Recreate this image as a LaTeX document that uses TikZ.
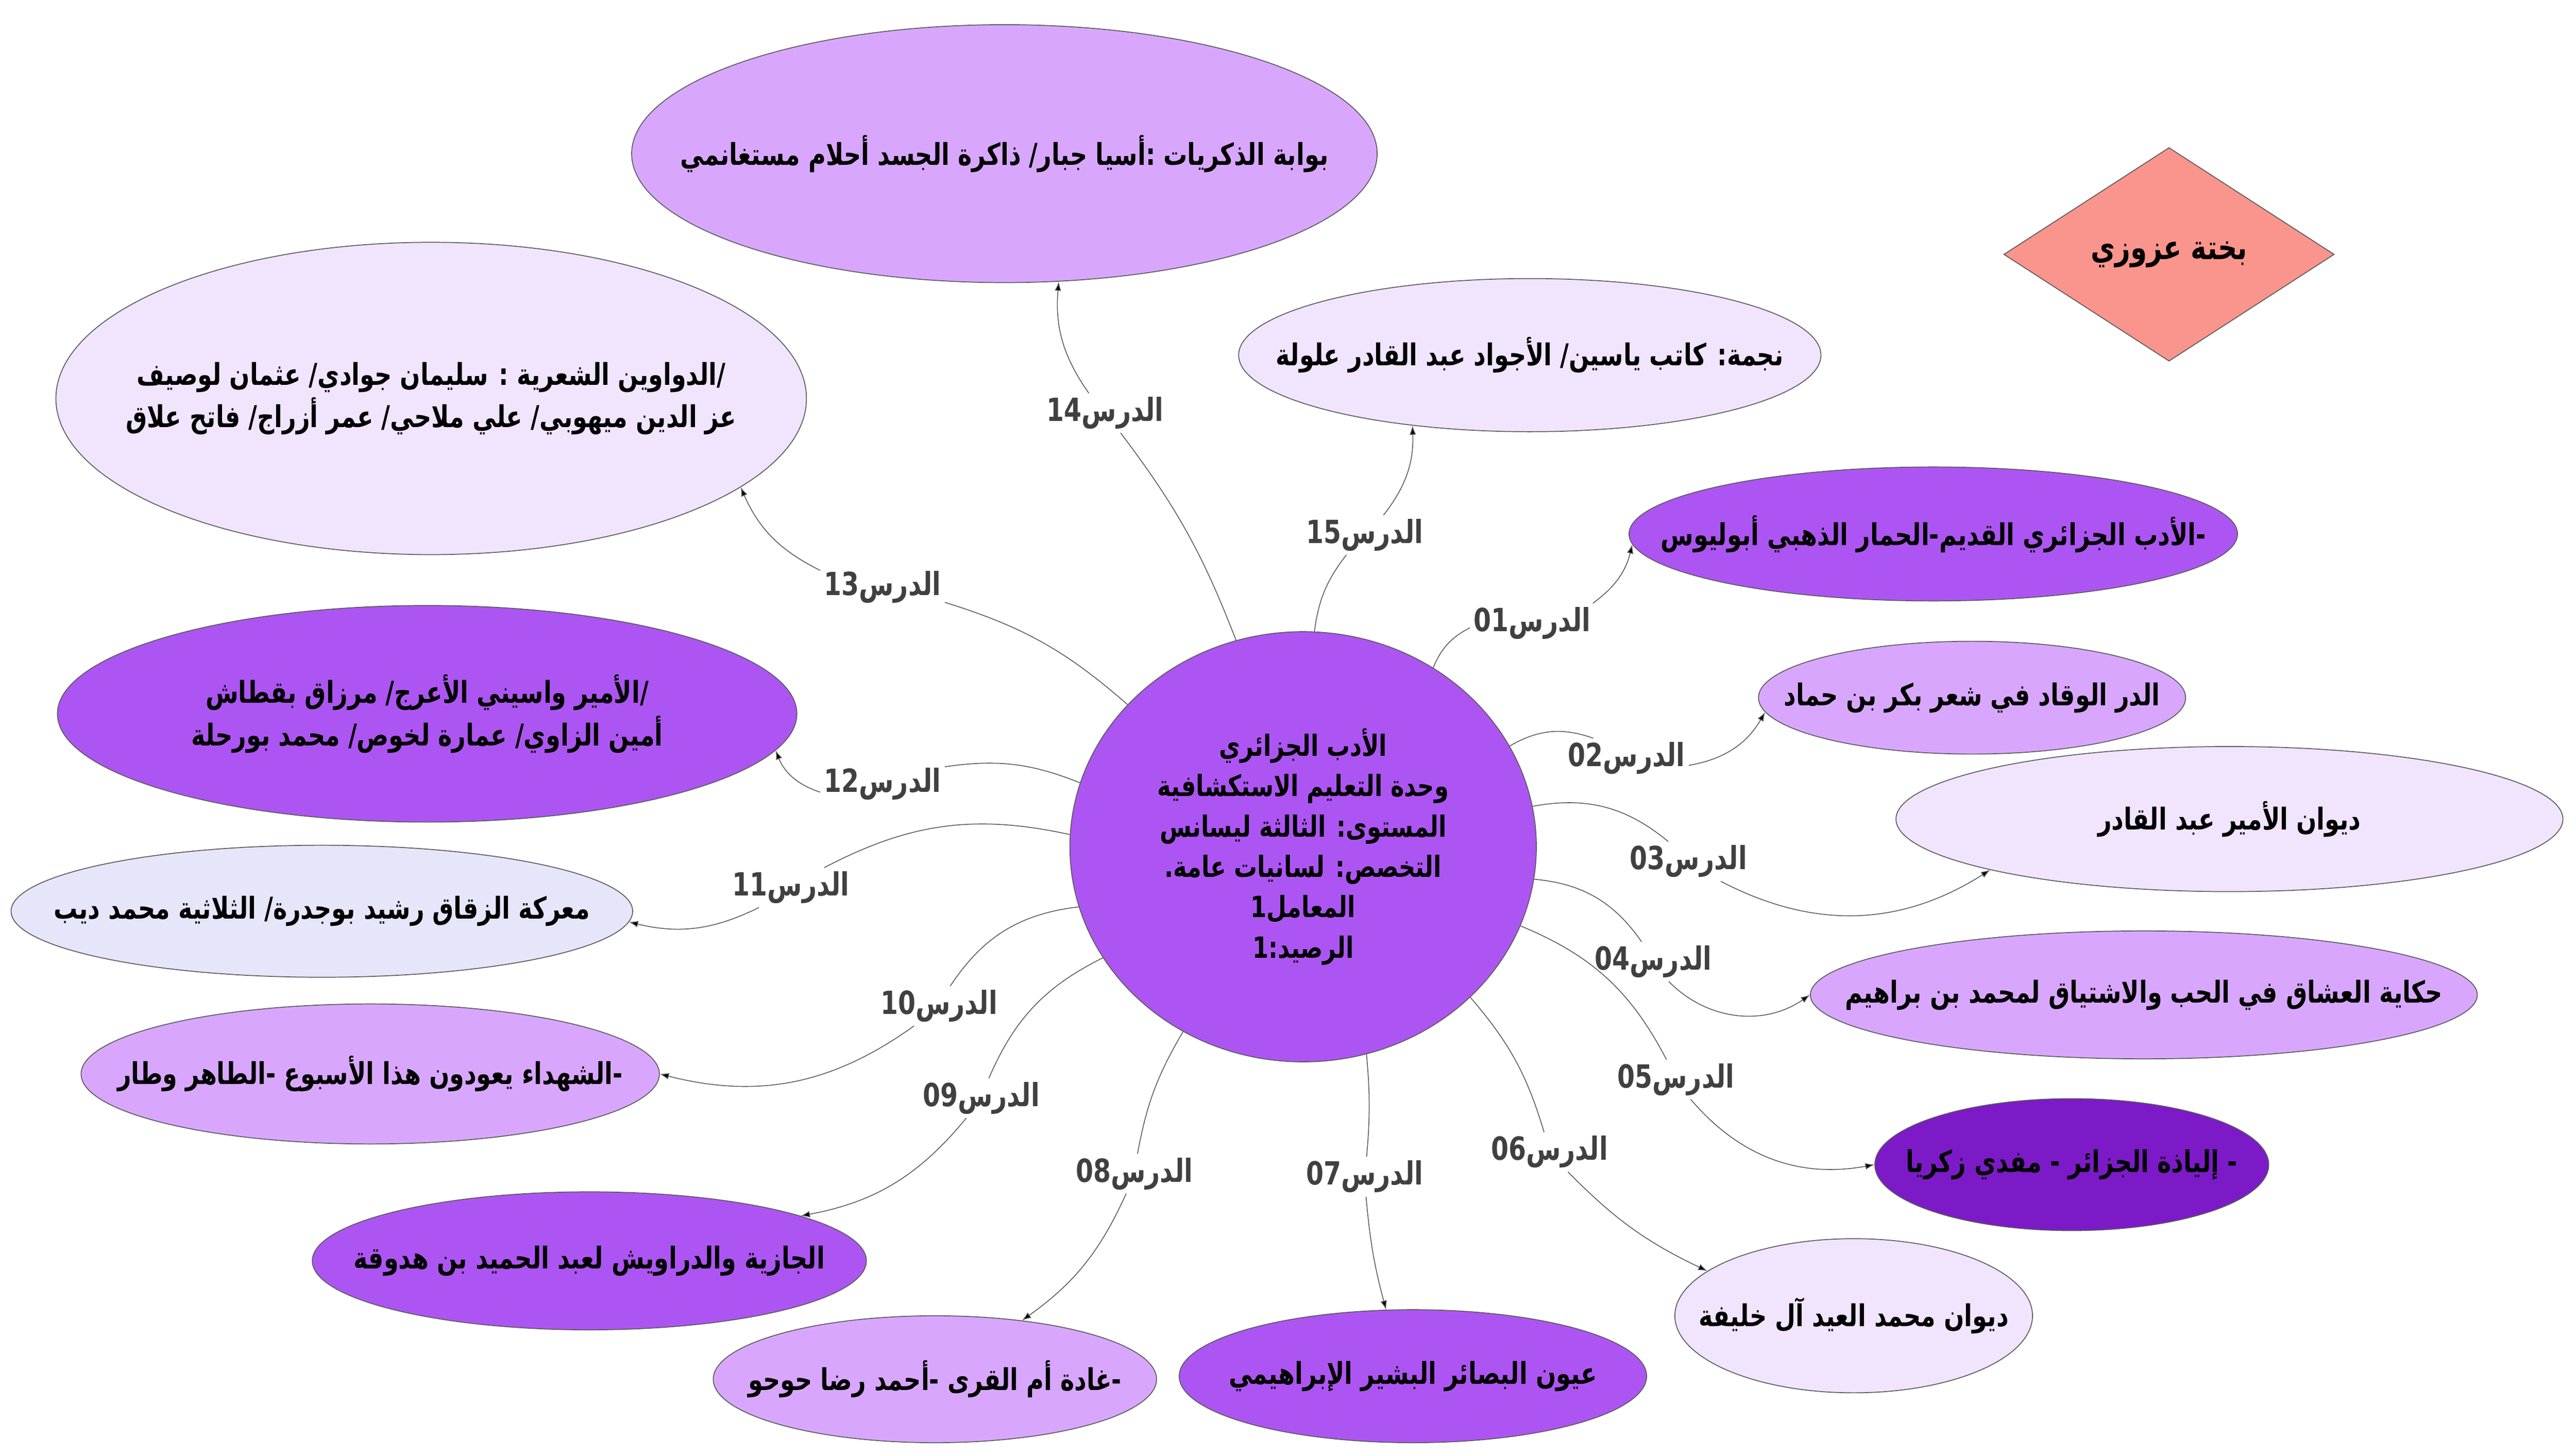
\documentclass[tikz,border=0pt]{standalone}
\usepackage{fontspec}
\usetikzlibrary{shapes.geometric,arrows.meta}
\TeXXeTstate=1
\newfontfamily\arabicfont[Script=Arabic,FakeStretch=0.79]{DejaVu Sans}
\definecolor{midpurple}{HTML}{AD55F2}
\definecolor{lightpurple}{HTML}{D8A7FD}
\definecolor{palepurple}{HTML}{F1E4FD}
\definecolor{darkpurple}{HTML}{7C1AC8}
\definecolor{lavenderblue}{HTML}{E6E6FA}
\definecolor{salmonpink}{HTML}{F9958C}
\definecolor{labelgray}{HTML}{404040}
\definecolor{linegray}{HTML}{555555}
\definecolor{bordergray}{HTML}{5A5A5A}
% text centred on the shape, not sizing it
\newcommand{\rl}[1]{\makebox[0pt]{\beginR #1\endR}}
\newcommand{\dars}[1]{\beginR الدرس\beginL #1\endL\endR}

\begin{document}
\begin{tikzpicture}[>={Latex[length=1.8mm,width=1.3mm]},
    main/.style = {ellipse, draw=bordergray, line width=0.5pt, inner sep=0pt, align=center, text=black, font=\arabicfont\bfseries\fontsize{17}{24}\selectfont},
    lbl/.style = {inner sep=2pt, text=labelgray, font=\arabicfont\bfseries\fontsize{18}{20}\selectfont},
    link/.style = {draw=linegray, line width=0.45pt}]
    \useasboundingbox (0,0) rectangle (51.14,-28.90);
    % centre
    \node[main, fill=midpurple, minimum width=9.26cm, minimum height=8.54cm, font=\arabicfont\bfseries\fontsize{16.5}{22.8}\selectfont] (c) at (25.87,-16.81)
        {\rl{الأدب الجزائري}\\ \rl{وحدة التعليم الاستكشافية}\\ \rl{المستوى: الثالثة ليسانس}\\ \rl{التخصص: لسانيات عامة.}\\ \rl{المعامل\beginL 1\endL}\\ \rl{الرصيد:\beginL 1\endL}};
    \node[diamond, draw=bordergray, line width=0.5pt, fill=salmonpink, minimum width=6.56cm, minimum height=4.24cm, inner sep=0pt, font=\arabicfont\bfseries\fontsize{19}{20}\selectfont] (author) at (43.06,-5.05) {\rl{بختة عزوزي}};
    % lessons
    \node[main, fill=midpurple, minimum width=12.08cm, minimum height=2.66cm] (n01) at (38.38,-10.60) {\rl{-الأدب الجزائري القديم-الحمار الذهبي أبوليوس}};
    \node[main, fill=lightpurple, minimum width=8.48cm, minimum height=2.24cm] (n02) at (39.15,-13.85) {\rl{الدر الوقاد في شعر بكر بن حماد}};
    \node[main, fill=palepurple, minimum width=13.24cm, minimum height=2.88cm] (n03) at (44.26,-16.26) {\rl{ديوان الأمير عبد القادر}};
    \node[main, fill=lightpurple, minimum width=13.24cm, minimum height=2.54cm] (n04) at (42.56,-19.75) {\rl{حكاية العشاق في الحب والاشتياق لمحمد بن براهيم}};
    \node[main, fill=darkpurple, minimum width=7.82cm, minimum height=2.62cm] (n05) at (41.13,-23.12) {\rl{- إلياذة الجزائر - مفدي زكريا}};
    \node[main, fill=palepurple, minimum width=7.10cm, minimum height=3.06cm] (n06) at (36.80,-26.12) {\rl{ديوان محمد العيد آل خليفة}};
    \node[main, fill=midpurple, minimum width=9.28cm, minimum height=2.64cm] (n07) at (28.05,-27.32) {\rl{عيون البصائر البشير الإبراهيمي}};
    \node[main, fill=lightpurple, minimum width=8.80cm, minimum height=2.52cm] (n08) at (18.56,-27.38) {\rl{-غادة أم القرى -أحمد رضا حوحو}};
    \node[main, fill=midpurple, minimum width=11.00cm, minimum height=2.74cm] (n09) at (11.70,-25.03) {\rl{الجازية والدراويش لعبد الحميد بن هدوقة}};
    \node[main, fill=lightpurple, minimum width=11.48cm, minimum height=2.78cm] (n10) at (7.35,-21.32) {\rl{-الشهداء يعودون هذا الأسبوع -الطاهر وطار}};
    \node[main, fill=lavenderblue, minimum width=12.34cm, minimum height=2.62cm] (n11) at (6.39,-18.09) {\rl{معركة الزقاق رشيد بوجدرة/ الثلاثية محمد ديب}};
    \node[main, fill=midpurple, minimum width=14.68cm, minimum height=4.30cm] (n12) at (8.48,-14.17) {\rl{/الأمير واسيني الأعرج/ مرزاق بقطاش}\\ \rl{أمين الزاوي/ عمارة لخوص/ محمد بورحلة}};
    \node[main, fill=palepurple, minimum width=14.90cm, minimum height=6.20cm] (n13) at (8.56,-7.91) {\rl{/الدواوين الشعرية : سليمان جوادي/ عثمان لوصيف}\\ \rl{عز الدين ميهوبي/ علي ملاحي/ عمر أزراج/ فاتح علاق}};
    \node[main, fill=lightpurple, minimum width=14.80cm, minimum height=5.12cm] (n14) at (19.94,-3.05) {\rl{بوابة الذكريات :أسيا جبار/ ذاكرة الجسد أحلام مستغانمي}};
    \node[main, fill=palepurple, minimum width=11.56cm, minimum height=3.04cm] (n15) at (30.37,-7.05) {\rl{نجمة: كاتب ياسين/ الأجواد عبد القادر علولة}};
    % labels
    \node[lbl] (l01) at (30.42,-12.37) {\dars{01}};
    \node[lbl] (l02) at (32.29,-15.05) {\dars{02}};
    \node[lbl] (l03) at (33.52,-17.10) {\dars{03}};
    \node[lbl] (l04) at (32.82,-19.09) {\dars{04}};
    \node[lbl] (l05) at (33.27,-21.43) {\dars{05}};
    \node[lbl] (l06) at (30.76,-22.87) {\dars{06}};
    \node[lbl] (l07) at (27.09,-23.36) {\dars{07}};
    \node[lbl] (l08) at (22.52,-23.30) {\dars{08}};
    \node[lbl] (l09) at (19.48,-21.80) {\dars{09}};
    \node[lbl] (l10) at (18.64,-19.97) {\dars{10}};
    \node[lbl] (l11) at (15.70,-17.62) {\dars{11}};
    \node[lbl] (l12) at (17.52,-15.56) {\dars{12}};
    \node[lbl] (l13) at (17.52,-11.66) {\dars{13}};
    \node[lbl] (l14) at (21.94,-8.20) {\dars{14}};
    \node[lbl] (l15) at (27.09,-10.62) {\dars{15}};
    \path[link]
        (c.54) edge[bend left=20] (l01)
        (c.26) edge[bend left=25] (l02)
        (c.10) edge[bend left=25] (l03)
        (c.352) edge[bend left=25] (l04)
        (c.340) edge[bend left=20] (l05)
        (c.318) edge[bend left=12] (l06)
        (c.287) edge[bend left=5] (l07)
        (c.237) edge[bend right=10] (l08)
        (c.209) edge[bend right=20] (l09)
        (c.195) edge[bend right=25] (l10)
        (c.177) edge[bend right=20] (l11)
        (c.164) edge[bend right=15] (l12)
        (c.141) edge[bend right=12] (l13)
        (c.108) edge[bend right=8] (l14)
        (c.87) edge[bend left=15] (l15);
    \path[link,->]
        (l01) edge[bend right=20] (n01.182)
        (l02) edge[bend right=25] (n02.184)
        (l03) edge[bend right=30] (n03.192)
        (l04) edge[bend right=40] (n04.west)
        (l05) edge[bend right=30] (n05.west)
        (l06) edge[bend right=10] (n06.163)
        (l07) edge[bend right=5] (n07.112)
        (l08) edge[bend left=15] (n08.34)
        (l09) edge[bend left=20] (n09.12)
        (l10) edge[bend left=25] (n10.east)
        (l11) edge[bend left=20] (n11.358)
        (l12) edge[bend left=25] (n12.354)
        (l13) edge[bend left=20] (n13.344)
        (l14) edge[bend left=20] (n14.293)
        (l15) edge[bend right=20] (n15.211);
\end{tikzpicture}
\end{document}
